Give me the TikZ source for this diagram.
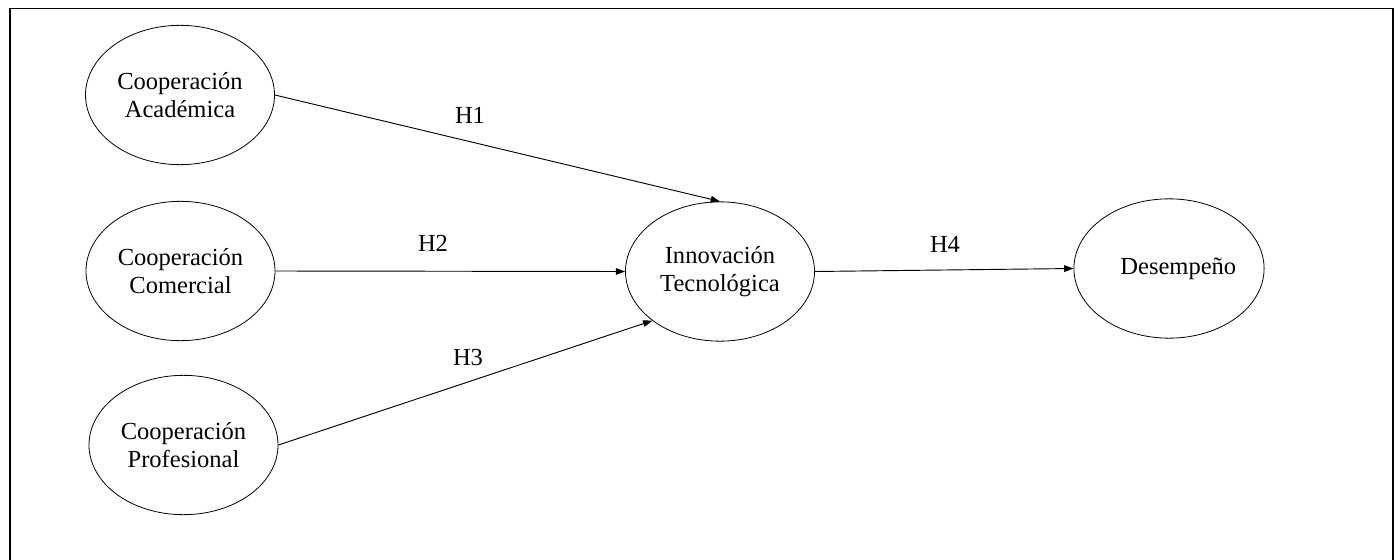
\documentclass[tikz,border=0pt]{standalone}
\usepackage{fontspec}
\setmainfont{Liberation Serif}
\usetikzlibrary{shapes.geometric,arrows.meta}
\begin{document}
\begin{tikzpicture}[x=0.75pt,y=-0.75pt,
  construct/.style={draw, line width=0.6pt, ellipse, inner sep=0pt,
    minimum width=141.75pt, minimum height=104.5pt, align=center,
    font=\fontsize{18.4}{20.5}\selectfont},
  hyp/.style={font=\fontsize{18.4}{20.5}\selectfont, inner sep=0pt},
  link/.style={-{Triangle[length=7pt,width=5pt]}, line width=0.7pt}]
\useasboundingbox (0,0) rectangle (1395,560);
\clip (0,0) rectangle (1395,560);
\draw[line width=0.9pt] (10,580) -- (10,8.5) -- (1393,8.5) -- (1393,580);
\node[construct] (ca) at (180,95) {Cooperación\\Académica};
\node[construct] (cc) at (180.5,271) {Cooperación\\Comercial};
\node[construct] (cp) at (183.5,445) {Cooperación\\Profesional};
\node[construct] (it) at (720,271.5) {Innovación\\Tecnológica};
\node[construct] (de) at (1169,268.5) {\hspace*{14pt}Desempeño};
\draw[link] (ca.east) -- (it.north);
\draw[link] (cc.east) -- (it.west);
\draw[link] (cp.east) -- (it.216);
\draw[link] (it.east) -- (de.west);
\node[hyp] (h1) at (470,115) {H1};
\node[hyp] (h2) at (433,243) {H2};
\node[hyp] (h3) at (468,357) {H3};
\node[hyp] (h4) at (945,244) {H4};
\end{tikzpicture}
\end{document}
